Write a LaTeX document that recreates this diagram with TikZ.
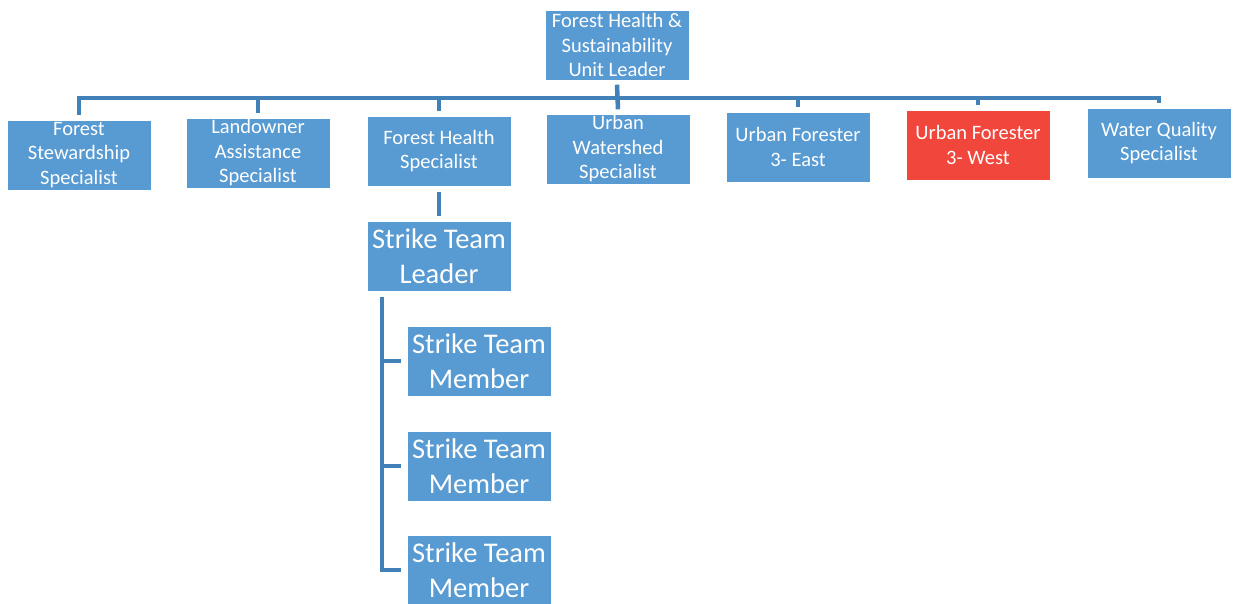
\documentclass[tikz,border=0pt]{standalone}
\usepackage{fontspec}
\setmainfont{Carlito}
\usetikzlibrary{positioning}
\definecolor{boxblue}{RGB}{88,154,210}
\definecolor{boxred}{RGB}{240,70,60}
\definecolor{linkblue}{RGB}{66,128,184}

\begin{document}
\begin{tikzpicture}[x=1pt,y=-1pt,
    unit/.style={rectangle,fill=boxblue,text=white,align=center,inner sep=0pt,
                 minimum width=143pt,minimum height=69pt,
                 font=\fontsize{20.5}{24.5}\selectfont},
    strike/.style={unit,font=\fontsize{28.5}{34.5}\selectfont},
    link/.style={draw=linkblue,line width=4.5pt}]
\useasboundingbox (0,0) rectangle (1234,603);
\begin{scope}
    \node[unit] (lead) at (617,45) {Forest Health \&\\Sustainability\\Unit Leader};
    \node[unit] (fs) at (79,155) {Forest\\Stewardship\\Specialist};
    \node[unit] (la) at (258,153) {Landowner\\Assistance\\Specialist};
    \node[unit] (fhs) at (439,151) {Forest Health\\Specialist};
    \node[unit] (uw) at (618,149) {Urban\\Watershed\\Specialist};
    \node[unit] (ufe) at (798,147) {Urban Forester\\3- East};
    \node[unit,fill=boxred] (ufw) at (978,145) {Urban Forester\\3- West};
    \node[unit] (wq) at (1159,143) {Water Quality\\Specialist};
    \node[strike] (stl) at (439,256) {Strike Team\\Leader};
    \node[strike] (m1) at (479,361) {Strike Team\\Member};
    \node[strike] (m2) at (479,466) {Strike Team\\Member};
    \node[strike] (m3) at (479,570) {Strike Team\\Member};
\end{scope}
\coordinate (bus) at (617,98);
\coordinate (spine) at (382,297);
\begin{scope}
    \draw[link,line cap=rect] (fs.north |- bus) -- (wq.north |- bus);
    \draw[link] ([yshift=-5pt]lead.south) -- ([yshift=5pt]uw.north);
    \foreach \c in {fs,la,fhs,ufe,ufw,wq}
        \draw[link] (\c.north |- bus) -- ([yshift=5pt]\c.north);
    \draw[link] ([yshift=-6pt]fhs.south) -- ([yshift=5pt]stl.north);
    \draw[link] (spine) |- ([xshift=-6pt]m3.west);
    \foreach \m in {m1,m2}
        \draw[link] (\m.west -| spine) -- ([xshift=-6pt]\m.west);
\end{scope}
\end{tikzpicture}
\end{document}
